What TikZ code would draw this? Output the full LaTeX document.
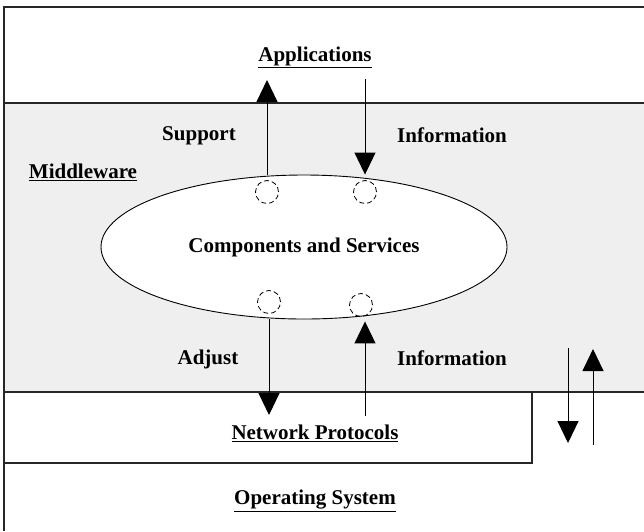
\documentclass[tikz,border=0pt]{standalone}
\usepackage{fontspec}
\setmainfont{Liberation Serif}
\usetikzlibrary{calc,positioning,shapes.geometric,arrows.meta}
\usepackage{xcolor}
\definecolor{mwgray}{HTML}{EFEFEF}

\begin{document}
\begin{tikzpicture}[x=1pt, y=-1pt,
  lab/.style={font=\fontsize{21}{25}\selectfont\bfseries, inner sep=0pt},
  frame/.style={line width=1.3pt, draw=black!85},
  comp/.style={draw, ellipse, fill=white, line width=0.9pt, minimum width=406pt, minimum height=144pt, inner sep=0pt},
  port/.style={draw, circle, dash pattern=on 5pt off 3pt, line width=0.8pt, minimum size=23pt, inner sep=0pt},
  arrow/.style={-{Triangle[length=22pt, width=21pt]}, line width=1pt}
]
\useasboundingbox (0,0) rectangle (644,531);
% layers
\fill[mwgray] (4,103) rectangle (644,392);
\draw[frame] (644,7) -- (4,7) -- (4,531);
\draw[frame] (4,103) -- (644,103);
\draw[frame] (4,392) -- (644,392);
\draw[frame] (4,463) -- (532,463) -- (532,392);

\node[lab] (app) at (315,57) {\underline{Applications}};
\node[lab] (mw) at (83,172) {\underline{Middleware}};
\node[lab] (net) at (315,433) {\underline{Network Protocols}};
\node[lab] (os) at (315,501) {\underline{Operating System}};

\node[comp] (cs) at (304,247) {};
\node[lab] at (cs.center) {Components and Services};
\node[port] (p1) at (267,192) {};
\node[port] (p2) at (365,192) {};
\node[port] (p3) at (269,302) {};
\node[port] (p4) at (361,305) {};

\node[lab] (sup) at (199,136) {Support};
\node[lab] (info1) at (452,135) {Information};
\node[lab] (adj) at (208,359) {Adjust};
\node[lab] (info2) at (452,358) {Information};

\coordinate (a1) at (267,80);
\coordinate (a2) at (365,79);
\coordinate (a3) at (269,415);
\coordinate (a4) at (365,416);
\coordinate (r1) at (568,348);
\coordinate (r2) at (568,443);
\coordinate (r3) at (593,445);
\coordinate (r4) at (593,349);

\draw[arrow] (p1 |- cs.north) -- (a1);
\draw[arrow] (a2) -- (a2 |- cs.north);
\draw[arrow] (p3 |- cs.south) -- (a3);
\draw[arrow] (a4) -- ($(a4 |- cs.south)+(0,2)$);
\draw[arrow] (r1) -- (r2);
\draw[arrow] (r3) -- (r4);
\end{tikzpicture}
\end{document}
